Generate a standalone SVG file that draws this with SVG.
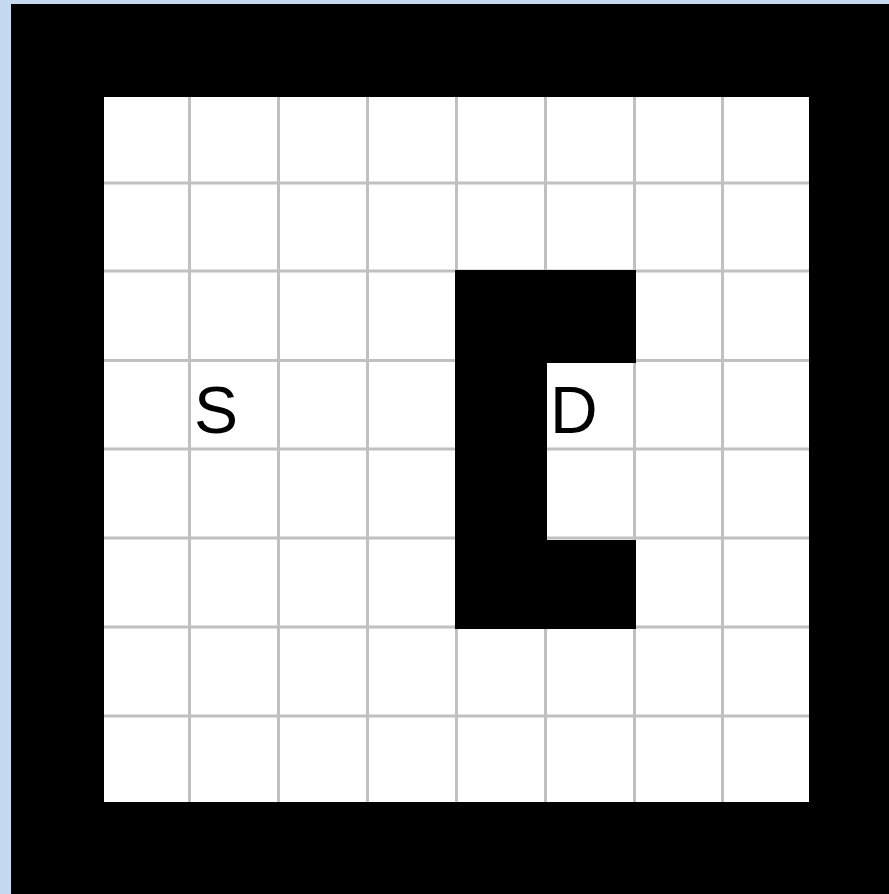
<svg xmlns="http://www.w3.org/2000/svg" width="889" height="894" viewBox="0 0 889 894">
<style>
.grid line{stroke:#c0c0c0;stroke-width:3}
.wall{fill:#000}
.lbl{font-family:"Liberation Sans",Arial,sans-serif;font-size:66px;fill:#000}
</style>
<rect x="0" y="0" width="889" height="894" fill="#c5d9f0"/>
<rect class="wall" x="11" y="4" width="878" height="890"/>
<rect x="104" y="97" width="705" height="705" fill="#fff"/>
<g class="grid" id="grid">
<line x1="189.5" y1="97" x2="189.5" y2="802"/>
<line x1="278.5" y1="97" x2="278.5" y2="802"/>
<line x1="367.5" y1="97" x2="367.5" y2="802"/>
<line x1="456.5" y1="97" x2="456.5" y2="802"/>
<line x1="545.5" y1="97" x2="545.5" y2="802"/>
<line x1="634.5" y1="97" x2="634.5" y2="802"/>
<line x1="722.5" y1="97" x2="722.5" y2="802"/>
<line x1="104" y1="183" x2="809" y2="183"/>
<line x1="104" y1="271" x2="809" y2="271"/>
<line x1="104" y1="360.5" x2="809" y2="360.5"/>
<line x1="104" y1="449" x2="809" y2="449"/>
<line x1="104" y1="538" x2="809" y2="538"/>
<line x1="104" y1="627" x2="809" y2="627"/>
<line x1="104" y1="716" x2="809" y2="716"/>
</g>
<g id="obstacle">
<rect class="wall" x="455" y="270" width="181" height="93"/>
<rect class="wall" x="455" y="363" width="92" height="177"/>
<rect class="wall" x="455" y="540" width="181" height="89"/>
</g>
<g id="start"><text class="lbl" x="194" y="433">S</text></g>
<g id="dest"><text class="lbl" x="550" y="433">D</text></g>
</svg>
